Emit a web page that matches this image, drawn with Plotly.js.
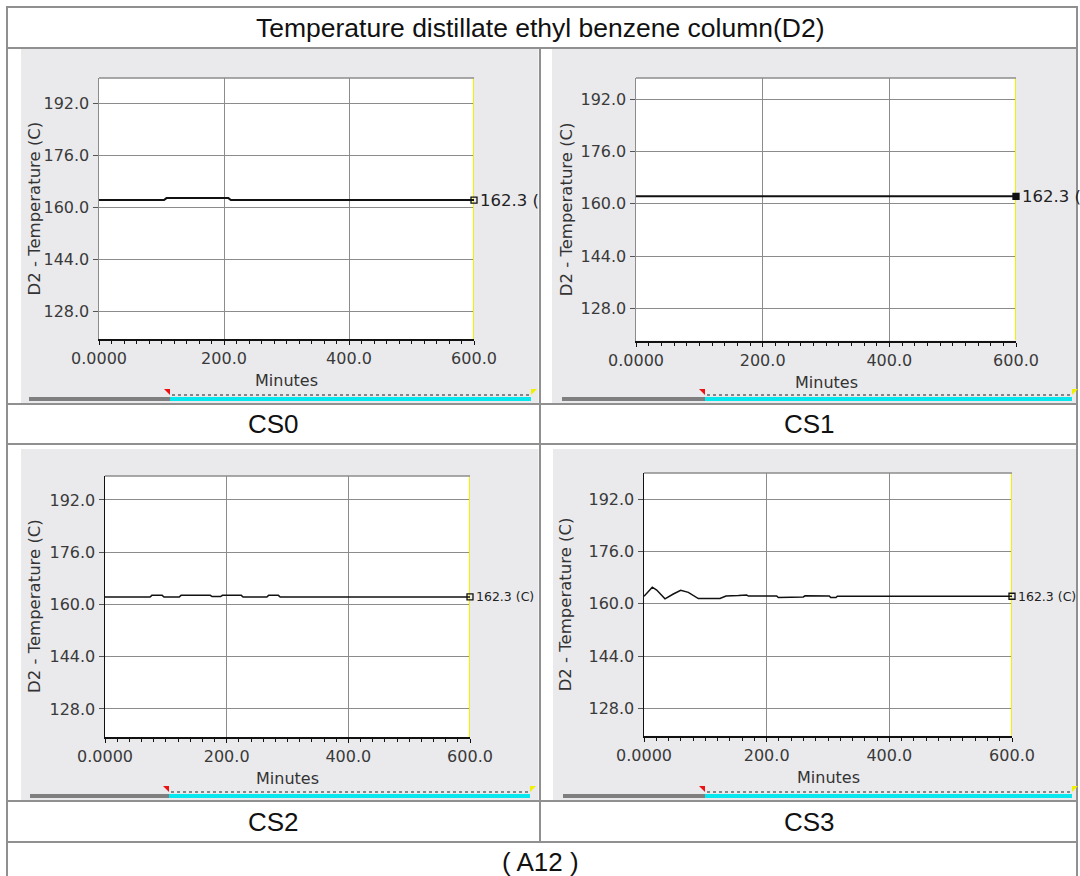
<!DOCTYPE html>
<html>
<head>
<meta charset="utf-8">
<script src="https://cdn.plot.ly/plotly-3.0.1.min.js"></script>
<style>
  html, body { margin: 0; padding: 0; background: #ffffff; }
  #chart { width: 1080px; height: 876px; }
</style>
</head>
<body>
<div id="chart"></div>
<script>
// ---- text ----
const chartTitle = 'Temperature distillate ethyl benzene column(D2)';
const figureLabel = '( A12 )';
const caseNames = ['CS0', 'CS1', 'CS2', 'CS3'];
const xAxisTitle = 'Minutes';
const yAxisTitle = 'D2 - Temperature (C)';

// ---- tick labels ----
const xTickVals = [0, 200, 400, 600];
const xTickText = ['0.0000', '200.0', '400.0', '600.0'];
const yTickVals = [128, 144, 160, 176, 192];
const yTickText = ['128.0', '144.0', '160.0', '176.0', '192.0'];

// ---- series: distillate temperature (C) against time (minutes) ----
const cs0Minutes = [0, 104, 108, 207, 211, 600];
const cs0Temp    = [162.3, 162.3, 162.9, 162.9, 162.3, 162.3];

const cs1Minutes = [0, 100, 200, 300, 400, 500, 600];
const cs1Temp    = [162.3, 162.3, 162.3, 162.3, 162.3, 162.3, 162.3];

const cs2Minutes = [0, 74, 77, 94, 97, 122, 125, 173, 176, 190, 193, 224, 227, 266, 269, 285, 288, 600];
const cs2Temp    = [162.3, 162.3, 162.8, 162.8, 162.3, 162.3, 162.8, 162.8, 162.4, 162.4, 162.8, 162.8, 162.3, 162.3, 162.8, 162.8, 162.3, 162.3];

const cs3Minutes = [0, 13.5, 20.7, 34.2, 47.8, 59.8, 72.3, 88.6, 123.9, 133.7, 153.8, 167.4, 170, 216.3, 219, 259.8, 262.5, 302, 304.4, 313, 315.2, 600];
const cs3Temp    = [162.3, 165.1, 164.2, 161.5, 163.0, 164.1, 163.5, 161.6, 161.6, 162.4, 162.5, 162.7, 162.35, 162.4, 161.9, 162.1, 162.45, 162.4, 161.9, 161.9, 162.3, 162.3];

// ---- page geometry (pixels) ----
const W = 1080, H = 876;
const fx = x => x / W;
const fy = y => 1 - y / H;

const FONT_PANEL = 'DejaVu Sans, Verdana, sans-serif';
const FONT_TABLE = 'Liberation Sans, Arial, sans-serif';
const GRID = '#8c8c8c';
const FRAME = '#909090';
const PANEL_BG = '#eaeaed';

const panels = [
  { name: caseNames[0], minutes: cs0Minutes, temp: cs0Temp,
    plot: [99, 78, 474, 339], bg: [21, 49, 538.5, 403], yRange: [119.6, 199.8],
    leftAxis: GRID, lineWidth: 2, marker: 'square-open', endFont: 16.5, full: false,
    yTitleX: 34, captionY: 424, captionX: 273.5, bar: [29, 170, 531, 397, 401] },
  { name: caseNames[1], minutes: cs1Minutes, temp: cs1Temp,
    plot: [636, 78, 1016, 340.5], bg: [552, 49, 1076, 403], yRange: [118.1, 198.6],
    leftAxis: GRID, lineWidth: 2, marker: 'square', endFont: 16.5, full: false,
    yTitleX: 566, captionY: 424, captionX: 809, bar: [562, 705, 1072, 397, 401] },
  { name: caseNames[2], minutes: cs2Minutes, temp: cs2Temp,
    plot: [105, 476, 470, 737], bg: [21, 449, 538.5, 800], yRange: [119.4, 199.35],
    leftAxis: '#111111', lineWidth: 1.5, marker: 'square-open', endFont: 12.5, full: true,
    yTitleX: 34.5, captionY: 821.5, captionX: 273.5, bar: [30, 169, 530, 794, 798] },
  { name: caseNames[3], minutes: cs3Minutes, temp: cs3Temp,
    plot: [644, 473, 1012, 735.7], bg: [553, 449, 1076, 800], yRange: [119.6, 200.05],
    leftAxis: '#111111', lineWidth: 1.5, marker: 'square-open', endFont: 12.5, full: true,
    yTitleX: 565, captionY: 821.5, captionX: 809, bar: [563, 705, 1072, 794, 798] }
];

const traces = [];
const shapes = [];
const annotations = [];
const layout = {
  width: W, height: H,
  margin: { l: 0, r: 0, t: 0, b: 0, pad: 0 },
  paper_bgcolor: '#ffffff',
  plot_bgcolor: 'rgba(0,0,0,0)',
  showlegend: false,
  shapes: shapes,
  annotations: annotations
};

// table frame
const hLine = (y, x0, x1) => shapes.push({ type: 'line', xref: 'paper', yref: 'paper',
  x0: fx(x0), x1: fx(x1), y0: fy(y), y1: fy(y), line: { color: FRAME, width: 2 }, layer: 'below' });
const vLine = (x, y0, y1) => shapes.push({ type: 'line', xref: 'paper', yref: 'paper',
  x0: fx(x), x1: fx(x), y0: fy(y0), y1: fy(y1), line: { color: FRAME, width: 2 }, layer: 'below' });

const tri = pts => 'M' + pts.map(q => fx(q[0]) + ',' + fy(q[1])).join(' L') + ' Z';

panels.forEach((p, i) => {
  const n = i === 0 ? '' : String(i + 1);
  const xa = 'xaxis' + n, ya = 'yaxis' + n;
  const xr = 'x' + n, yr = 'y' + n;
  const [L, T, R, B] = p.plot;

  // grey chart window and white plotting area
  shapes.push({ type: 'rect', xref: 'paper', yref: 'paper', layer: 'below',
    x0: fx(p.bg[0]), x1: fx(p.bg[2]), y0: fy(p.bg[3]), y1: fy(p.bg[1]),
    fillcolor: PANEL_BG, line: { width: 0 } });
  shapes.push({ type: 'rect', xref: 'paper', yref: 'paper', layer: 'below',
    x0: fx(L), x1: fx(R), y0: fy(B), y1: fy(T),
    fillcolor: '#ffffff', line: { width: 0 } });

  layout[xa] = {
    domain: [fx(L), fx(R)], anchor: yr, range: [0, 600],
    tickmode: 'array', tickvals: xTickVals, ticktext: xTickText,
    showgrid: true, gridcolor: GRID, gridwidth: 1, zeroline: false,
    showline: true, linecolor: '#111111', linewidth: 2,
    ticks: 'outside', ticklen: 4, tickcolor: '#111111', tickwidth: 1,
    minor: { tickmode: 'linear', tick0: 0, dtick: 20, ticks: 'outside', ticklen: 3,
             tickcolor: '#111111', tickwidth: 1, showgrid: false },
    tickfont: { family: FONT_PANEL, size: 16, color: '#3a3a3a' },
    fixedrange: true
  };
  layout[ya] = {
    domain: [fy(B), fy(T)], anchor: xr, range: p.yRange,
    tickmode: 'array', tickvals: yTickVals, ticktext: yTickText,
    showgrid: true, gridcolor: GRID, gridwidth: 1, zeroline: false,
    showline: true, linecolor: p.leftAxis, linewidth: 1.5,
    ticks: 'outside', ticklen: 5, tickcolor: '#555555', tickwidth: 1,
    tickfont: { family: FONT_PANEL, size: 16, color: '#3a3a3a' },
    fixedrange: true
  };

  // top edge of the plotting area
  shapes.push({ type: 'line', xref: 'paper', yref: 'paper', layer: 'above',
    x0: fx(L), x1: fx(R), y0: fy(T), y1: fy(T), line: { color: GRID, width: 1.5 } });

  // yellow end-of-run marker line at the right edge, under the data
  traces.push({
    type: 'scatter', mode: 'lines', x: [600, 600], y: p.yRange, xaxis: xr, yaxis: yr,
    cliponaxis: false, line: { color: '#f2f200', width: 2 }, hoverinfo: 'skip'
  });
  traces.push({
    type: 'scatter', mode: 'lines', x: p.minutes, y: p.temp, xaxis: xr, yaxis: yr,
    line: { color: '#111111', width: p.lineWidth }, hoverinfo: 'skip'
  });
  const lastT = p.minutes[p.minutes.length - 1];
  const lastV = p.temp[p.temp.length - 1];
  traces.push({
    type: 'scatter', mode: 'markers', x: [lastT], y: [lastV], xaxis: xr, yaxis: yr,
    cliponaxis: false, hoverinfo: 'skip',
    marker: { symbol: p.marker, size: 6, color: '#111111', line: { color: '#111111', width: 1.3 } }
  });
  annotations.push({
    xref: xr, yref: yr, x: lastT, y: lastV, xanchor: 'left', yanchor: 'middle', xshift: 4,
    text: lastV.toFixed(1) + (p.full ? ' (C)' : ' ('), showarrow: false,
    font: { family: FONT_PANEL, size: p.endFont, color: '#222222' }
  });

  // axis titles
  annotations.push({
    xref: 'paper', yref: 'paper', x: fx((L + R) / 2), y: fy(B + 41.5),
    xanchor: 'center', yanchor: 'middle', text: xAxisTitle, showarrow: false,
    font: { family: FONT_PANEL, size: 16, color: '#333333' }
  });
  annotations.push({
    xref: 'paper', yref: 'paper', x: fx(p.yTitleX), y: fy((T + B) / 2),
    xanchor: 'center', yanchor: 'middle', textangle: -90, text: yAxisTitle, showarrow: false,
    font: { family: FONT_PANEL, size: 16.5, color: '#333333' }
  });

  // time-range slider under the chart
  const [bx0, bxm, bx1, bt, bb] = p.bar;
  shapes.push({ type: 'rect', xref: 'paper', yref: 'paper', layer: 'above',
    x0: fx(bx0), x1: fx(bxm), y0: fy(bb), y1: fy(bt), fillcolor: '#7f7f7f', line: { width: 0 } });
  shapes.push({ type: 'rect', xref: 'paper', yref: 'paper', layer: 'above',
    x0: fx(bxm), x1: fx(bx1), y0: fy(bb), y1: fy(bt), fillcolor: '#08e6ee', line: { width: 0 } });
  shapes.push({ type: 'line', xref: 'paper', yref: 'paper', layer: 'above',
    x0: fx(bxm + 2), x1: fx(bx1 - 2), y0: fy(bt - 2), y1: fy(bt - 2),
    line: { color: '#222222', width: 1, dash: 'dot' } });
  shapes.push({ type: 'path', xref: 'paper', yref: 'paper', layer: 'above',
    path: tri([[bxm - 6, bt - 8], [bxm, bt - 8], [bxm, bt - 2]]),
    fillcolor: '#ee1111', line: { width: 0 } });
  shapes.push({ type: 'path', xref: 'paper', yref: 'paper', layer: 'above',
    path: tri([[bx1, bt - 8], [bx1 + 6, bt - 8], [bx1, bt - 2]]),
    fillcolor: '#f0f000', line: { width: 0 } });

  // case caption
  annotations.push({
    xref: 'paper', yref: 'paper', x: fx(p.captionX), y: fy(p.captionY),
    xanchor: 'center', yanchor: 'middle', text: p.name, showarrow: false,
    font: { family: FONT_TABLE, size: 26, color: '#111111' }
  });
});

// table lines
hLine(7, 6, 1078);
hLine(48, 7, 1077);
hLine(404, 7, 1077);
hLine(444, 7, 1077);
hLine(801, 7, 1077);
hLine(842, 7, 1077);
vLine(7, 6, 876);
vLine(1077, 6, 876);
vLine(540, 48, 842);

annotations.push({
  xref: 'paper', yref: 'paper', x: fx(540), y: fy(27.5), xanchor: 'center', yanchor: 'middle',
  text: chartTitle, showarrow: false, font: { family: FONT_TABLE, size: 26.5, color: '#111111' }
});
annotations.push({
  xref: 'paper', yref: 'paper', x: fx(540), y: fy(862), xanchor: 'center', yanchor: 'middle',
  text: figureLabel, showarrow: false, font: { family: FONT_TABLE, size: 26, color: '#111111' }
});

Plotly.newPlot('chart', traces, layout, { staticPlot: true, displayModeBar: false });
</script>
</body>
</html>
